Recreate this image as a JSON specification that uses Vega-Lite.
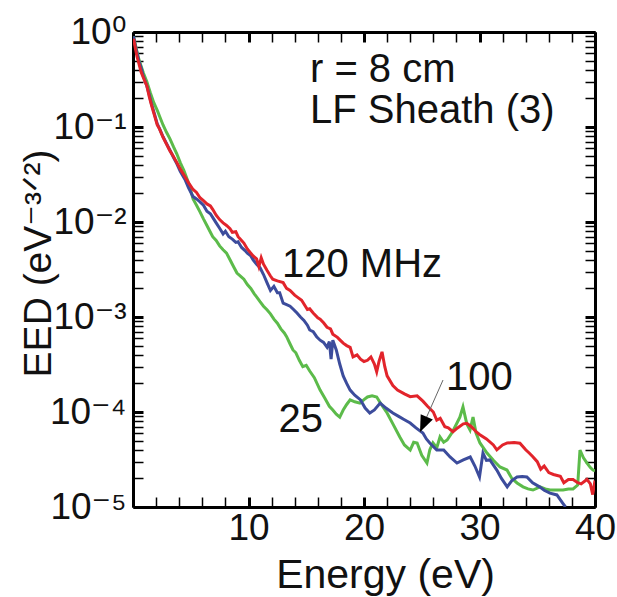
{
  "$schema": "https://vega.github.io/schema/vega-lite/v6.json",
  "width": 462,
  "height": 475,
  "autosize": "none",
  "padding": {"left": 133, "top": 32, "right": 22, "bottom": 90},
  "background": "white",
  "config": {
    "view": {"stroke": null},
    "font": "Liberation Sans, DejaVu Sans",
    "axis": {"domainColor": "black", "domainWidth": 3, "tickColor": "black", "tickSize": -10, "ticks": true, "grid": false, "labelColor": "#111", "titleColor": "#111", "labelFont": "Liberation Sans, DejaVu Sans", "titleFont": "Liberation Sans, DejaVu Sans", "titleFontWeight": "normal", "labelOverlap": false, "labelFlush": false}
  },
  "datasets": {
    "curves": [
      {"f":"25","E":0.05,"EED":0.9},{"f":"25","E":0.2,"EED":0.74},{"f":"25","E":0.35,"EED":0.62},{"f":"25","E":0.5,"EED":0.52},{"f":"25","E":0.7,"EED":0.44},{"f":"25","E":0.9,"EED":0.37},{"f":"25","E":1.2,"EED":0.3},{"f":"25","E":1.5,"EED":0.23},{"f":"25","E":1.8,"EED":0.18},{"f":"25","E":2.1,"EED":0.15},{"f":"25","E":2.3,"EED":0.13},{"f":"25","E":2.6,"EED":0.105},{"f":"25","E":2.9,"EED":0.088},{"f":"25","E":3.2,"EED":0.075},{"f":"25","E":3.5,"EED":0.062},{"f":"25","E":3.8,"EED":0.052},{"f":"25","E":4.1,"EED":0.042},{"f":"25","E":4.4,"EED":0.035},{"f":"25","E":4.7,"EED":0.028},{"f":"25","E":4.9,"EED":0.024},{"f":"25","E":5.2,"EED":0.0175},{"f":"25","E":5.5,"EED":0.015},{"f":"25","E":5.8,"EED":0.0128},{"f":"25","E":6.1,"EED":0.0108},{"f":"25","E":6.4,"EED":0.0092},{"f":"25","E":6.7,"EED":0.0078},{"f":"25","E":6.9,"EED":0.007},{"f":"25","E":7.2,"EED":0.0064},{"f":"25","E":7.5,"EED":0.0056},{"f":"25","E":7.8,"EED":0.0051},{"f":"25","E":8.1,"EED":0.0047},{"f":"25","E":8.4,"EED":0.004},{"f":"25","E":8.7,"EED":0.0034},{"f":"25","E":9.0,"EED":0.0029},{"f":"25","E":9.3,"EED":0.0027},{"f":"25","E":9.6,"EED":0.0025},{"f":"25","E":9.9,"EED":0.0022},{"f":"25","E":10.2,"EED":0.002},{"f":"25","E":10.5,"EED":0.00175},{"f":"25","E":10.7,"EED":0.00163},{"f":"25","E":11.0,"EED":0.00145},{"f":"25","E":11.3,"EED":0.0013},{"f":"25","E":11.6,"EED":0.00119},{"f":"25","E":11.9,"EED":0.00108},{"f":"25","E":12.2,"EED":0.00095},{"f":"25","E":12.5,"EED":0.00086},{"f":"25","E":12.8,"EED":0.00075},{"f":"25","E":13.1,"EED":0.00068},{"f":"25","E":13.3,"EED":0.00062},{"f":"25","E":13.6,"EED":0.00052},{"f":"25","E":13.85,"EED":0.00045},{"f":"25","E":14.1,"EED":0.00042},{"f":"25","E":14.4,"EED":0.00035},{"f":"25","E":14.7,"EED":0.0003},{"f":"25","E":15.0,"EED":0.00031},{"f":"25","E":15.3,"EED":0.00027},{"f":"25","E":15.7,"EED":0.00023},{"f":"25","E":16.2,"EED":0.00017},{"f":"25","E":16.6,"EED":0.00014},{"f":"25","E":17.0,"EED":0.000115},{"f":"25","E":17.3,"EED":0.000105},{"f":"25","E":17.6,"EED":0.000095},{"f":"25","E":17.9,"EED":0.0000885},{"f":"25","E":18.2,"EED":0.000105},{"f":"25","E":18.5,"EED":0.00012},{"f":"25","E":18.8,"EED":0.000134},{"f":"25","E":19.2,"EED":0.000128},{"f":"25","E":19.65,"EED":0.000124},{"f":"25","E":20.0,"EED":0.000135},{"f":"25","E":20.3,"EED":0.000144},{"f":"25","E":20.7,"EED":0.000148},{"f":"25","E":21.1,"EED":0.000144},{"f":"25","E":21.5,"EED":0.00012},{"f":"25","E":22.0,"EED":0.0000976},{"f":"25","E":22.5,"EED":0.000075},{"f":"25","E":23.1,"EED":0.0000546},{"f":"25","E":23.5,"EED":0.000045},{"f":"25","E":24.0,"EED":0.0000398},{"f":"25","E":24.3,"EED":0.000048},{"f":"25","E":24.6,"EED":0.0000472},{"f":"25","E":25.0,"EED":0.000035},{"f":"25","E":25.45,"EED":0.000029},{"f":"25","E":25.7,"EED":0.00004},{"f":"25","E":25.97,"EED":0.0000472},{"f":"25","E":26.3,"EED":0.000042},{"f":"25","E":26.58,"EED":0.0000546},{"f":"25","E":26.9,"EED":0.000048},{"f":"25","E":27.2,"EED":0.0000507},{"f":"25","E":27.6,"EED":0.00006},{"f":"25","E":28.05,"EED":0.0000766},{"f":"25","E":28.3,"EED":0.000088},{"f":"25","E":28.57,"EED":0.000113},{"f":"25","E":28.9,"EED":0.000075},{"f":"25","E":29.18,"EED":0.0000647},{"f":"25","E":29.44,"EED":0.0000885},{"f":"25","E":29.7,"EED":0.00006},{"f":"25","E":30.04,"EED":0.0000472},{"f":"25","E":30.65,"EED":0.000037},{"f":"25","E":31.2,"EED":0.000031},{"f":"25","E":31.77,"EED":0.0000264},{"f":"25","E":32.38,"EED":0.0000245},{"f":"25","E":32.8,"EED":0.00002},{"f":"25","E":33.25,"EED":0.0000179},{"f":"25","E":33.77,"EED":0.0000163},{"f":"25","E":34.2,"EED":0.0000155},{"f":"25","E":34.63,"EED":0.0000151},{"f":"25","E":35.24,"EED":0.0000163},{"f":"25","E":35.7,"EED":0.0000155},{"f":"25","E":36.1,"EED":0.0000151},{"f":"25","E":36.7,"EED":0.0000151},{"f":"25","E":37.23,"EED":0.0000151},{"f":"25","E":37.7,"EED":0.0000155},{"f":"25","E":38.1,"EED":0.0000155},{"f":"25","E":38.5,"EED":0.000017},{"f":"25","E":38.7,"EED":0.0000398},{"f":"25","E":39.0,"EED":0.000033},{"f":"25","E":39.31,"EED":0.000029},{"f":"25","E":39.6,"EED":0.000026},{"f":"25","E":39.83,"EED":0.0000245},{"f":"25","E":40.0,"EED":0.000024},
      {"f":"100","E":0.05,"EED":0.9},{"f":"100","E":0.2,"EED":0.72},{"f":"100","E":0.35,"EED":0.6},{"f":"100","E":0.5,"EED":0.5},{"f":"100","E":0.7,"EED":0.42},{"f":"100","E":0.9,"EED":0.34},{"f":"100","E":1.2,"EED":0.27},{"f":"100","E":1.4,"EED":0.22},{"f":"100","E":1.6,"EED":0.175},{"f":"100","E":1.8,"EED":0.145},{"f":"100","E":2.1,"EED":0.108},{"f":"100","E":2.3,"EED":0.096},{"f":"100","E":2.6,"EED":0.079},{"f":"100","E":2.9,"EED":0.067},{"f":"100","E":3.2,"EED":0.057},{"f":"100","E":3.5,"EED":0.048},{"f":"100","E":3.8,"EED":0.041},{"f":"100","E":4.1,"EED":0.034},{"f":"100","E":4.5,"EED":0.028},{"f":"100","E":4.8,"EED":0.023},{"f":"100","E":5.2,"EED":0.0185},{"f":"100","E":5.5,"EED":0.0175},{"f":"100","E":5.8,"EED":0.0163},{"f":"100","E":6.1,"EED":0.015},{"f":"100","E":6.4,"EED":0.013},{"f":"100","E":6.7,"EED":0.0122},{"f":"100","E":6.9,"EED":0.0112},{"f":"100","E":7.2,"EED":0.0098},{"f":"100","E":7.5,"EED":0.0086},{"f":"100","E":7.8,"EED":0.0075},{"f":"100","E":8.0,"EED":0.008},{"f":"100","E":8.3,"EED":0.007},{"f":"100","E":8.6,"EED":0.0066},{"f":"100","E":8.9,"EED":0.0061},{"f":"100","E":9.1,"EED":0.0062},{"f":"100","E":9.4,"EED":0.0054},{"f":"100","E":9.7,"EED":0.005},{"f":"100","E":9.9,"EED":0.0047},{"f":"100","E":10.2,"EED":0.0044},{"f":"100","E":10.4,"EED":0.004},{"f":"100","E":10.7,"EED":0.0036},{"f":"100","E":11.0,"EED":0.0033},{"f":"100","E":11.3,"EED":0.0028},{"f":"100","E":11.6,"EED":0.0023},{"f":"100","E":11.9,"EED":0.0019},{"f":"100","E":12.2,"EED":0.0021},{"f":"100","E":12.5,"EED":0.0018},{"f":"100","E":12.7,"EED":0.0018},{"f":"100","E":13.0,"EED":0.0014},{"f":"100","E":13.3,"EED":0.00135},{"f":"100","E":13.6,"EED":0.0013},{"f":"100","E":13.9,"EED":0.0012},{"f":"100","E":14.2,"EED":0.0011},{"f":"100","E":14.5,"EED":0.001},{"f":"100","E":14.8,"EED":0.00092},{"f":"100","E":15.1,"EED":0.00082},{"f":"100","E":15.3,"EED":0.00073},{"f":"100","E":15.6,"EED":0.0007},{"f":"100","E":15.9,"EED":0.00062},{"f":"100","E":16.2,"EED":0.00057},{"f":"100","E":16.5,"EED":0.00054},{"f":"100","E":16.8,"EED":0.00048},{"f":"100","E":17.0,"EED":0.00055},{"f":"100","E":17.15,"EED":0.00036},{"f":"100","E":17.3,"EED":0.00057},{"f":"100","E":17.6,"EED":0.00045},{"f":"100","E":17.9,"EED":0.00032},{"f":"100","E":18.2,"EED":0.00024},{"f":"100","E":18.5,"EED":0.0002},{"f":"100","E":18.8,"EED":0.00017},{"f":"100","E":19.2,"EED":0.00015},{"f":"100","E":19.7,"EED":0.000134},{"f":"100","E":20.1,"EED":0.00011},{"f":"100","E":20.5,"EED":0.0000976},{"f":"100","E":20.9,"EED":0.000105},{"f":"100","E":21.4,"EED":0.000124},{"f":"100","E":21.9,"EED":0.00011},{"f":"100","E":22.5,"EED":0.0000976},{"f":"100","E":23.0,"EED":0.00009},{"f":"100","E":23.5,"EED":0.000083},{"f":"100","E":24.0,"EED":0.0000766},{"f":"100","E":24.5,"EED":0.000068},{"f":"100","E":25.1,"EED":0.00006},{"f":"100","E":25.4,"EED":0.000052},{"f":"100","E":25.7,"EED":0.0000472},{"f":"100","E":26.3,"EED":0.0000398},{"f":"100","E":26.9,"EED":0.0000398},{"f":"100","E":27.45,"EED":0.0000336},{"f":"100","E":28.05,"EED":0.000029},{"f":"100","E":28.6,"EED":0.0000313},{"f":"100","E":29.2,"EED":0.0000336},{"f":"100","E":29.6,"EED":0.000027},{"f":"100","E":30.0,"EED":0.0000207},{"f":"100","E":30.3,"EED":0.000037},{"f":"100","E":30.6,"EED":0.000031},{"f":"100","E":30.9,"EED":0.0000313},{"f":"100","E":31.5,"EED":0.0000245},{"f":"100","E":31.9,"EED":0.00002},{"f":"100","E":32.4,"EED":0.0000163},{"f":"100","E":32.8,"EED":0.000019},{"f":"100","E":33.25,"EED":0.0000207},{"f":"100","E":33.7,"EED":0.000021},{"f":"100","E":34.1,"EED":0.0000207},{"f":"100","E":34.6,"EED":0.000018},{"f":"100","E":35.2,"EED":0.0000163},{"f":"100","E":35.6,"EED":0.000015},{"f":"100","E":36.1,"EED":0.000014},{"f":"100","E":36.7,"EED":0.0000134},{"f":"100","E":37.2,"EED":0.000011},{"f":"100","E":37.45,"EED":0.00001},
      {"f":"120","E":0.05,"EED":0.85},{"f":"120","E":0.2,"EED":0.68},{"f":"120","E":0.35,"EED":0.55},{"f":"120","E":0.5,"EED":0.47},{"f":"120","E":0.7,"EED":0.38},{"f":"120","E":0.9,"EED":0.33},{"f":"120","E":1.2,"EED":0.27},{"f":"120","E":1.4,"EED":0.21},{"f":"120","E":1.6,"EED":0.17},{"f":"120","E":1.8,"EED":0.14},{"f":"120","E":2.1,"EED":0.105},{"f":"120","E":2.3,"EED":0.095},{"f":"120","E":2.6,"EED":0.078},{"f":"120","E":2.9,"EED":0.066},{"f":"120","E":3.2,"EED":0.056},{"f":"120","E":3.5,"EED":0.049},{"f":"120","E":3.8,"EED":0.042},{"f":"120","E":4.1,"EED":0.036},{"f":"120","E":4.5,"EED":0.03},{"f":"120","E":4.8,"EED":0.026},{"f":"120","E":5.2,"EED":0.022},{"f":"120","E":5.5,"EED":0.0205},{"f":"120","E":5.8,"EED":0.018},{"f":"120","E":6.1,"EED":0.0168},{"f":"120","E":6.4,"EED":0.0155},{"f":"120","E":6.7,"EED":0.0148},{"f":"120","E":6.9,"EED":0.0136},{"f":"120","E":7.2,"EED":0.0118},{"f":"120","E":7.5,"EED":0.0106},{"f":"120","E":7.8,"EED":0.0098},{"f":"120","E":8.1,"EED":0.0092},{"f":"120","E":8.4,"EED":0.0085},{"f":"120","E":8.6,"EED":0.0078},{"f":"120","E":8.9,"EED":0.0079},{"f":"120","E":9.1,"EED":0.007},{"f":"120","E":9.3,"EED":0.0066},{"f":"120","E":9.6,"EED":0.006},{"f":"120","E":9.9,"EED":0.0052},{"f":"120","E":10.2,"EED":0.0047},{"f":"120","E":10.4,"EED":0.0044},{"f":"120","E":10.7,"EED":0.0041},{"f":"120","E":10.9,"EED":0.0034},{"f":"120","E":11.1,"EED":0.0042},{"f":"120","E":11.3,"EED":0.0036},{"f":"120","E":11.6,"EED":0.0031},{"f":"120","E":11.9,"EED":0.0027},{"f":"120","E":12.1,"EED":0.0025},{"f":"120","E":12.5,"EED":0.0024},{"f":"120","E":13.0,"EED":0.0023},{"f":"120","E":13.3,"EED":0.002},{"f":"120","E":13.6,"EED":0.0019},{"f":"120","E":14.0,"EED":0.0017},{"f":"120","E":14.2,"EED":0.00163},{"f":"120","E":14.6,"EED":0.0015},{"f":"120","E":15.1,"EED":0.0012},{"f":"120","E":15.3,"EED":0.00122},{"f":"120","E":15.6,"EED":0.0011},{"f":"120","E":16.0,"EED":0.00098},{"f":"120","E":16.2,"EED":0.00095},{"f":"120","E":16.5,"EED":0.00087},{"f":"120","E":16.8,"EED":0.00078},{"f":"120","E":17.1,"EED":0.00075},{"f":"120","E":17.3,"EED":0.00066},{"f":"120","E":17.7,"EED":0.00061},{"f":"120","E":18.0,"EED":0.00056},{"f":"120","E":18.2,"EED":0.00053},{"f":"120","E":18.5,"EED":0.0005},{"f":"120","E":18.8,"EED":0.00048},{"f":"120","E":19.05,"EED":0.00038},{"f":"120","E":19.4,"EED":0.0004},{"f":"120","E":19.7,"EED":0.00036},{"f":"120","E":20.0,"EED":0.00034},{"f":"120","E":20.3,"EED":0.00035},{"f":"120","E":20.6,"EED":0.00038},{"f":"120","E":20.9,"EED":0.00032},{"f":"120","E":21.1,"EED":0.000265},{"f":"120","E":21.3,"EED":0.00034},{"f":"120","E":21.56,"EED":0.00043},{"f":"120","E":21.8,"EED":0.0003},{"f":"120","E":22.0,"EED":0.00024},{"f":"120","E":22.5,"EED":0.00019},{"f":"120","E":22.9,"EED":0.00017},{"f":"120","E":23.5,"EED":0.000155},{"f":"120","E":24.0,"EED":0.000145},{"f":"120","E":24.6,"EED":0.000148},{"f":"120","E":25.1,"EED":0.00013},{"f":"120","E":25.5,"EED":0.000115},{"f":"120","E":26.0,"EED":0.0001},{"f":"120","E":26.3,"EED":0.000082},{"f":"120","E":26.6,"EED":0.000086},{"f":"120","E":27.0,"EED":0.00007},{"f":"120","E":27.3,"EED":0.000068},{"f":"120","E":27.7,"EED":0.000062},{"f":"120","E":28.1,"EED":0.000068},{"f":"120","E":28.6,"EED":0.000075},{"f":"120","E":28.9,"EED":0.000076},{"f":"120","E":29.3,"EED":0.00007},{"f":"120","E":29.7,"EED":0.000062},{"f":"120","E":30.0,"EED":0.000058},{"f":"120","E":30.6,"EED":0.000052},{"f":"120","E":31.2,"EED":0.000045},{"f":"120","E":31.5,"EED":0.00004},{"f":"120","E":32.0,"EED":0.000045},{"f":"120","E":32.4,"EED":0.0000472},{"f":"120","E":33.0,"EED":0.0000478},{"f":"120","E":33.5,"EED":0.000047},{"f":"120","E":34.0,"EED":0.00004},{"f":"120","E":34.3,"EED":0.000037},{"f":"120","E":34.6,"EED":0.000034},{"f":"120","E":35.0,"EED":0.00003},{"f":"120","E":35.3,"EED":0.000025},{"f":"120","E":35.6,"EED":0.000027},{"f":"120","E":36.0,"EED":0.000023},{"f":"120","E":36.4,"EED":0.000022},{"f":"120","E":37.0,"EED":0.000021},{"f":"120","E":37.3,"EED":0.000018},{"f":"120","E":37.7,"EED":0.0000195},{"f":"120","E":38.1,"EED":0.0000195},{"f":"120","E":38.5,"EED":0.000018},{"f":"120","E":38.8,"EED":0.0000175},{"f":"120","E":39.3,"EED":0.0000195},{"f":"120","E":39.6,"EED":0.0000175},{"f":"120","E":39.8,"EED":0.0000135},{"f":"120","E":40.0,"EED":0.000019}
    ],
    "labels": [
      {"E": 15.32, "EED": 0.298, "text": "r = 8 cm"},
      {"E": 15.32, "EED": 0.110, "text": "LF Sheath (3)"},
      {"E": 12.9, "EED": 0.00264, "text": "120 MHz"},
      {"E": 27.1, "EED": 0.0001705, "text": "100"},
      {"E": 12.6, "EED": 0.0000615, "text": "25"}
    ],
    "arrow": [
      {"E": 26.84, "EED": 0.000217, "E2": 24.85, "EED2": 0.0000616}
    ]
  },
  "layer": [
    {
      "data": {"name": "curves"},
      "mark": {"type": "line", "strokeWidth": 3, "clip": true},
      "encoding": {
        "x": {"field": "E", "type": "quantitative", "scale": {"domain": [0, 40], "nice": false, "zero": false},
          "axis": {"orient": "bottom", "values": [0,2,4,6,8,10,12,14,16,18,20,22,24,26,28,30,32,34,36,38,40],
            "labelExpr": "datum.value % 10 == 0 && datum.value > 0 ? datum.label : ''",
            "labelFontSize": 37, "labelPadding": 13, "title": "Energy (eV)", "titleFontSize": 41,
            "titleX": 252, "titleY": 80, "titleBaseline": "alphabetic", "titleAlign": "center", "titleAnchor": null,
            "tickWidth": {"condition": {"test": "datum.value % 10 == 0", "value": 3}, "value": 1.5},
            "encode": {"ticks": {"update": {"y2": {"signal": "datum.value % 10 == 0 ? -11 : -6"}}}}}},
        "y": {"field": "EED", "type": "quantitative", "scale": {"type": "log", "domain": [0.00001, 1], "nice": false},
          "axis": {"orient": "left", "values": [0.00001,0.00002,0.00003,0.00004,0.00005,0.00006,0.00007,0.00008,0.00009,0.0001,0.0002,0.0003,0.0004,0.0005,0.0006,0.0007,0.0008,0.0009,0.001,0.002,0.003,0.004,0.005,0.006,0.007,0.008,0.009,0.01,0.02,0.03,0.04,0.05,0.06,0.07,0.08,0.09,0.1,0.2,0.3,0.4,0.5,0.6,0.7,0.8,0.9,1],
            "labelExpr": "abs(log(datum.value)/LN10 - round(log(datum.value)/LN10)) < 0.001 ? '10' + ['⁰','⁻¹','⁻²','⁻³','⁻⁴','⁻⁵'][-round(log(datum.value)/LN10)] : ''",
            "labelFontSize": 37, "labelPadding": 17, "title": "EED (eV⁻³ᐟ²)", "titleFontSize": 39, "titleAngle": -90,
            "titleX": -83, "titleY": 231, "titleAlign": "center", "titleBaseline": "alphabetic", "titleAnchor": null,
            "tickWidth": {"condition": {"test": "abs(log(datum.value)/LN10 - round(log(datum.value)/LN10)) < 0.001", "value": 3}, "value": 1.5},
            "encode": {"ticks": {"update": {"x2": {"signal": "abs(log(datum.value)/LN10 - round(log(datum.value)/LN10)) < 0.001 ? 11 : 6"}}}}}},
        "color": {"field": "f", "type": "nominal", "scale": {"domain": ["25", "100", "120"], "range": ["#5cbb4a", "#3c4c9c", "#e2242b"]}, "legend": null}
      }
    },
    {
      "data": {"name": "labels"},
      "mark": {"type": "text", "align": "left", "baseline": "alphabetic", "fontSize": 40, "color": "#111"},
      "encoding": {
        "x": {"field": "E", "type": "quantitative",
          "axis": {"orient": "top", "values": [0,2,4,6,8,10,12,14,16,18,20,22,24,26,28,30,32,34,36,38,40], "labels": false, "title": null,
            "tickWidth": {"condition": {"test": "datum.value % 10 == 0", "value": 3}, "value": 1.5},
            "encode": {"ticks": {"update": {"y2": {"signal": "datum.value % 10 == 0 ? 11 : 6"}}}}}},
        "y": {"field": "EED", "type": "quantitative",
          "axis": {"orient": "right", "values": [0.00001,0.00002,0.00003,0.00004,0.00005,0.00006,0.00007,0.00008,0.00009,0.0001,0.0002,0.0003,0.0004,0.0005,0.0006,0.0007,0.0008,0.0009,0.001,0.002,0.003,0.004,0.005,0.006,0.007,0.008,0.009,0.01,0.02,0.03,0.04,0.05,0.06,0.07,0.08,0.09,0.1,0.2,0.3,0.4,0.5,0.6,0.7,0.8,0.9,1], "labels": false, "title": null,
            "tickWidth": {"condition": {"test": "abs(log(datum.value)/LN10 - round(log(datum.value)/LN10)) < 0.001", "value": 3}, "value": 1.5},
            "encode": {"ticks": {"update": {"x2": {"signal": "abs(log(datum.value)/LN10 - round(log(datum.value)/LN10)) < 0.001 ? -11 : -6"}}}}}},
        "text": {"field": "text"}
      }
    },
    {
      "data": {"name": "arrow"},
      "mark": {"type": "rule", "color": "#666", "strokeWidth": 1},
      "encoding": {
        "x": {"field": "E", "type": "quantitative", "axis": null},
        "y": {"field": "EED", "type": "quantitative", "axis": null},
        "x2": {"field": "E2"},
        "y2": {"field": "EED2"}
      }
    },
    {
      "data": {"name": "arrow"},
      "mark": {"type": "point", "shape": "M0,0L-0.4,-1L0.4,-1Z", "filled": true, "color": "#000", "opacity": 1, "size": 1100, "angle": 24, "strokeWidth": 0},
      "encoding": {
        "x": {"field": "E2", "type": "quantitative", "axis": null},
        "y": {"field": "EED2", "type": "quantitative", "axis": null}
      }
    }
  ],
  "resolve": {"axis": {"x": "independent", "y": "independent"}}
}
